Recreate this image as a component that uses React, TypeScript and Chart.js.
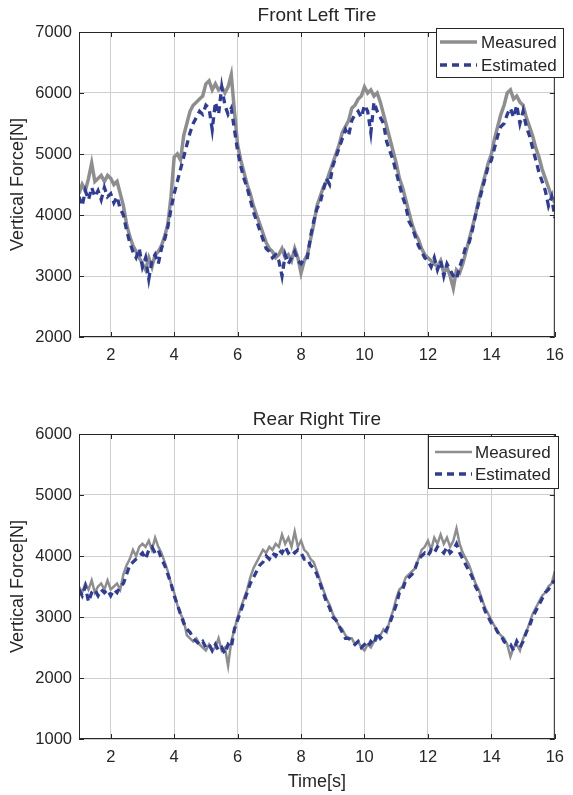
import React, { useEffect, useRef } from "react";
import { Chart, registerables } from "chart.js";

Chart.register(...registerables);

// ---------- data ----------
const TIME_START = 1;
const TIME_STEP = 0.1;

const X_TICKS = [2, 4, 6, 8, 10, 12, 14, 16];
const FL_Y_TICKS = [2000, 3000, 4000, 5000, 6000, 7000];
const RR_Y_TICKS = [1000, 2000, 3000, 4000, 5000, 6000];

const SERIES_LABELS = ["Measured", "Estimated"];

// Front Left Tire (t = 1.0 ... 16.0 s, every 0.1 s)
const FL_MEASURED = [
  4350, 4500, 4400, 4600, 4850, 4550, 4600, 4650, 4550, 4650,
  4600, 4500, 4550, 4350, 4150, 3850, 3650, 3500, 3400, 3300,
  3200, 3100, 3300, 3150, 3350, 3400, 3500, 3650, 3850, 4300,
  4950, 5000, 4900, 5300, 5500, 5700, 5800, 5850, 5900, 5950,
  6150, 6200, 6050, 6150, 6050, 6100, 6000, 6100, 6300, 5700,
  5150, 4900, 4700, 4500, 4350, 4150, 4000, 3850, 3700, 3550,
  3450, 3400, 3300, 3350, 3450, 3300, 3350, 3250, 3450, 3300,
  3050, 3250, 3350, 3600, 3850, 4150, 4300, 4450, 4550, 4700,
  4850, 5000, 5150, 5350, 5450, 5550, 5750, 5800, 5900, 5950,
  6100, 6000, 6050, 5950, 6000, 5850, 5650, 5450, 5250, 5050,
  4850, 4600, 4450, 4250, 4050, 3850, 3700, 3600, 3450, 3350,
  3300, 3250, 3200, 3150, 3250, 3050, 3150, 3000, 2800, 3100,
  3050, 3200, 3400, 3600, 3800, 4000, 4250, 4450, 4650, 4850,
  5000, 5250, 5450, 5650, 5800, 6000, 6050, 5900, 5950, 5850,
  5800, 5600, 5450, 5300, 5100, 4950, 4750, 4600, 4450, 4300,
  4200,
];

const FL_ESTIMATED = [
  4300, 4150, 4400, 4250, 4450, 4300, 4400, 4250, 4450, 4300,
  4350, 4200, 4300, 4100, 4000, 3750, 3550, 3400, 3300, 3450,
  3150, 3300, 2950, 3250, 3350, 3200, 3450, 3600, 3800, 4100,
  4350, 4550, 4750, 4950, 5150, 5350, 5500, 5600, 5700, 5650,
  5800, 5750, 5400, 5850, 5650, 6100, 5800, 5650, 5750, 5400,
  5050, 4800, 4600, 4450, 4250, 4050, 3900, 3750, 3600, 3450,
  3400, 3300, 3350, 3250, 3000, 3350, 3200, 3300, 3400, 3250,
  3200, 3300, 3300, 3650, 3900, 4100, 4200, 4400, 4600, 4500,
  4800, 4950, 5100, 5250, 5400, 5300, 5550, 5650, 5700, 5600,
  5800, 5700, 5350, 5850, 5700, 5600, 5500, 5200, 5050, 4900,
  4700, 4500, 4300, 4150, 3900, 3800, 3650, 3500, 3400, 3300,
  3250, 3150, 3300, 3100, 3250, 3000, 3200, 3100, 3000, 2950,
  3150, 3300, 3500, 3550, 3750, 4000, 4200, 4400, 4600, 4800,
  4900, 5100, 5300, 5450, 5500, 5650, 5750, 5600, 5800, 5500,
  5700, 5450, 5300, 5100, 4900, 4700, 4550, 4400, 4150, 4300,
  3950,
];

// Rear Right Tire (t = 1.0 ... 16.0 s, every 0.1 s)
const RR_MEASURED = [
  3500, 3400, 3550, 3450, 3600, 3400, 3500, 3550, 3450, 3600,
  3450, 3500, 3550, 3450, 3700, 3850, 3950, 4100, 4000, 4150,
  4200, 4150, 4250, 4100, 4300, 4150, 4050, 3900, 3750, 3550,
  3400, 3200, 3050, 2950, 2700, 2650, 2600, 2650, 2550, 2500,
  2450, 2550, 2450, 2500, 2650, 2450, 2500, 2200, 2600, 2800,
  3000, 3150, 3300, 3450, 3650, 3800, 3900, 4000, 4100, 4050,
  4150, 4100, 4200, 4150, 4350, 4200, 4300, 4150, 4400, 4150,
  4250, 4100, 4050, 3950, 3900, 3750, 3600, 3450, 3300, 3200,
  3050, 2950, 2850, 2800, 2700, 2650, 2650, 2550, 2600, 2500,
  2450, 2550, 2500, 2600, 2650, 2700, 2800, 2750, 2950, 3100,
  3300, 3450, 3500, 3650, 3700, 3750, 3800, 3950, 4100, 4150,
  4250, 4100, 4300, 4200, 4350, 4200, 4300, 4150, 4250, 4450,
  4200, 4050, 3950, 3850, 3700, 3550, 3450, 3300, 3150, 3050,
  2950, 2850, 2750, 2700, 2650, 2550, 2350, 2500, 2550, 2450,
  2650, 2750, 2900, 3050, 3150, 3250, 3350, 3400, 3500, 3550,
  3750,
];

const RR_ESTIMATED = [
  3450, 3350, 3500, 3250, 3400, 3450, 3350, 3450, 3400, 3450,
  3350, 3450, 3400, 3500, 3550, 3700, 3850, 3900, 3950, 4000,
  4050, 3950, 4100, 4150, 4050, 4100, 3950, 3850, 3700, 3550,
  3350, 3200, 3050, 2900, 2800, 2750, 2650, 2600, 2550, 2600,
  2500, 2550, 2450, 2550, 2450, 2500, 2400, 2550, 2500, 2800,
  2950, 3100, 3250, 3400, 3550, 3650, 3750, 3850, 3900, 4000,
  3950, 4050, 4000, 4100, 4050, 4150, 4050, 4100, 4050, 4100,
  4050, 3950, 3950, 3850, 3800, 3700, 3550, 3400, 3250, 3150,
  3000, 2950, 2850, 2750, 2650, 2650, 2600, 2550, 2600, 2500,
  2550, 2500, 2600, 2550, 2750, 2650, 2700, 2800, 2900, 3050,
  3200, 3400, 3450, 3600, 3650, 3700, 3800, 3950, 4000, 4050,
  4000, 4100, 4050, 4150, 4100, 4050, 4150, 4050, 4100, 4200,
  4050, 3950, 3850, 3750, 3650, 3500, 3400, 3250, 3100, 3000,
  2900, 2850, 2750, 2700, 2600, 2550, 2550, 2450, 2600, 2500,
  2600, 2750, 2850, 3000, 3100, 3200, 3300, 3400, 3450, 3550,
  3600,
];

// ---------- styles ----------
const FONT = '"Liberation Sans", Arial, Helvetica, sans-serif';
const TEXT = "#262626";
const GRID = "#cfcfcf";
const MEAS_COLOR = "#8e8e8e";
const EST_COLOR = "#2d3c9b";

function toPoints(values: number[]) {
  return values.map((v, i) => ({ x: +(TIME_START + i * TIME_STEP).toFixed(1), y: v }));
}

type Cfg = {
  title: string;
  titleY: number;
  measured: number[];
  estimated: number[];
  yTicks: number[];
  padTop: number;
  padRight: number;
  xAxisHeight: number;
  showXTitle: boolean;
  measWidth: number;
  legend: { x: number; y: number; w: number; h: number; l0: number; l1: number; tx: number; rows: number[] };
};

function decorPlugin(cfg: Cfg) {
  return {
    id: "decor",
    afterDraw(chart: any) {
      const { ctx, chartArea: a, scales } = chart;
      ctx.save();
      // frame
      ctx.strokeStyle = TEXT;
      ctx.lineWidth = 1;
      ctx.setLineDash([]);
      ctx.strokeRect(a.left + 0.5, a.top + 0.5, a.right - a.left - 1, a.bottom - a.top - 1);
      // inward tick marks
      ctx.beginPath();
      X_TICKS.forEach((v) => {
        const px = Math.round(scales.x.getPixelForValue(v)) + 0.5;
        ctx.moveTo(px, a.bottom);
        ctx.lineTo(px, a.bottom - 5);
        ctx.moveTo(px, a.top);
        ctx.lineTo(px, a.top + 5);
      });
      cfg.yTicks.forEach((v) => {
        const py = Math.round(scales.y.getPixelForValue(v)) + 0.5;
        ctx.moveTo(a.left, py);
        ctx.lineTo(a.left + 5, py);
        ctx.moveTo(a.right, py);
        ctx.lineTo(a.right - 5, py);
      });
      ctx.stroke();
      // title
      ctx.fillStyle = TEXT;
      ctx.font = `19px ${FONT}`;
      ctx.textAlign = "center";
      ctx.textBaseline = "middle";
      ctx.fillText(cfg.title, (a.left + a.right) / 2, cfg.titleY);
      // legend
      const L = cfg.legend;
      ctx.fillStyle = "#ffffff";
      ctx.fillRect(L.x, L.y, L.w, L.h);
      ctx.strokeStyle = TEXT;
      ctx.lineWidth = 1;
      ctx.strokeRect(L.x + 0.5, L.y + 0.5, L.w, L.h);
      const order = [1, 0]; // Measured first, Estimated second (dataset indices)
      order.forEach((dsIndex, row) => {
        const ds = chart.data.datasets[dsIndex];
        const y = L.rows[row];
        ctx.beginPath();
        ctx.strokeStyle = ds.borderColor;
        ctx.lineWidth = ds.borderWidth;
        ctx.setLineDash(ds.borderDash || []);
        ctx.moveTo(L.l0, y);
        ctx.lineTo(L.l1, y);
        ctx.stroke();
        ctx.setLineDash([]);
        ctx.fillStyle = TEXT;
        ctx.font = `17px ${FONT}`;
        ctx.textAlign = "left";
        ctx.textBaseline = "middle";
        ctx.fillText(ds.label, L.tx, y + 1);
      });
      ctx.restore();
    },
  };
}

function buildChart(canvas: HTMLCanvasElement, cfg: Cfg) {
  const yMin = cfg.yTicks[0];
  const yMax = cfg.yTicks[cfg.yTicks.length - 1];
  return new Chart(canvas, {
    type: "line",
    data: {
      datasets: [
        {
          label: SERIES_LABELS[1],
          data: toPoints(cfg.estimated),
          borderColor: EST_COLOR,
          borderWidth: 3.3,
          borderDash: [7, 5],
          pointRadius: 0,
          tension: 0,
          fill: false,
          order: 1,
        },
        {
          label: SERIES_LABELS[0],
          data: toPoints(cfg.measured),
          borderColor: MEAS_COLOR,
          borderWidth: cfg.measWidth,
          pointRadius: 0,
          tension: 0,
          fill: false,
          order: 2,
        },
      ],
    },
    options: {
      animation: false,
      responsive: false,
      maintainAspectRatio: false,
      devicePixelRatio: 1,
      events: [],
      layout: { padding: { left: 0, right: cfg.padRight, top: cfg.padTop, bottom: 0 } },
      plugins: {
        legend: { display: false },
        title: { display: false },
        tooltip: { enabled: false },
      },
      scales: {
        x: {
          type: "linear",
          min: 1,
          max: 16,
          afterBuildTicks: (s: any) => {
            s.ticks = X_TICKS.map((v) => ({ value: v }));
          },
          afterFit: (s: any) => {
            s.height = cfg.xAxisHeight;
          },
          grid: { color: GRID, lineWidth: 1, drawTicks: false },
          border: { display: false },
          ticks: {
            color: TEXT,
            font: { family: FONT, size: 16.5 },
            padding: 9,
            maxRotation: 0,
            autoSkip: false,
            callback: (v: any) => String(v),
          },
          title: {
            display: cfg.showXTitle,
            text: "Time[s]",
            color: TEXT,
            font: { family: FONT, size: 18 },
            padding: { top: 0, bottom: 2 },
          },
        },
        y: {
          type: "linear",
          min: yMin,
          max: yMax,
          afterBuildTicks: (s: any) => {
            s.ticks = cfg.yTicks.map((v) => ({ value: v }));
          },
          afterFit: (s: any) => {
            s.width = 79;
          },
          grid: { color: GRID, lineWidth: 1, drawTicks: false },
          border: { display: false },
          ticks: {
            color: TEXT,
            font: { family: FONT, size: 16.5 },
            padding: 7,
            autoSkip: false,
            callback: (v: any) => String(v),
          },
          title: {
            display: true,
            text: "Vertical Force[N]",
            color: TEXT,
            font: { family: FONT, size: 18 },
            padding: { top: 7, bottom: 0 },
          },
        },
      },
    } as any,
    plugins: [decorPlugin(cfg)],
  });
}

const TOP_CFG: Cfg = {
  title: "Front Left Tire",
  titleY: 16,
  measured: FL_MEASURED,
  estimated: FL_ESTIMATED,
  yTicks: FL_Y_TICKS,
  padTop: 32,
  padRight: 9,
  xAxisHeight: 53,
  showXTitle: false,
  measWidth: 3.5,
  legend: { x: 436, y: 28, w: 127, h: 49, l0: 440, l1: 477, tx: 481, rows: [42, 65] },
};

const BOT_CFG: Cfg = {
  title: "Rear Right Tire",
  titleY: 25,
  measured: RR_MEASURED,
  estimated: RR_ESTIMATED,
  yTicks: RR_Y_TICKS,
  padTop: 39,
  padRight: 11,
  xAxisHeight: 56,
  showXTitle: true,
  measWidth: 2.5,
  legend: { x: 428, y: 41, w: 130, h: 52, l0: 435, l1: 472, tx: 475, rows: [57, 79] },
};

export default function App() {
  const topRef = useRef<HTMLCanvasElement>(null);
  const botRef = useRef<HTMLCanvasElement>(null);

  useEffect(() => {
    const c1 = buildChart(topRef.current as HTMLCanvasElement, TOP_CFG);
    const c2 = buildChart(botRef.current as HTMLCanvasElement, BOT_CFG);
    return () => {
      c1.destroy();
      c2.destroy();
    };
  }, []);

  return (
    <div style={{ position: "absolute", left: 0, top: 0, width: 573, height: 795, background: "#ffffff" }}>
      <canvas ref={topRef} width={573} height={390} style={{ position: "absolute", left: 0, top: 0, display: "block" }} />
      <canvas ref={botRef} width={573} height={400} style={{ position: "absolute", left: 0, top: 395, display: "block" }} />
    </div>
  );
}
